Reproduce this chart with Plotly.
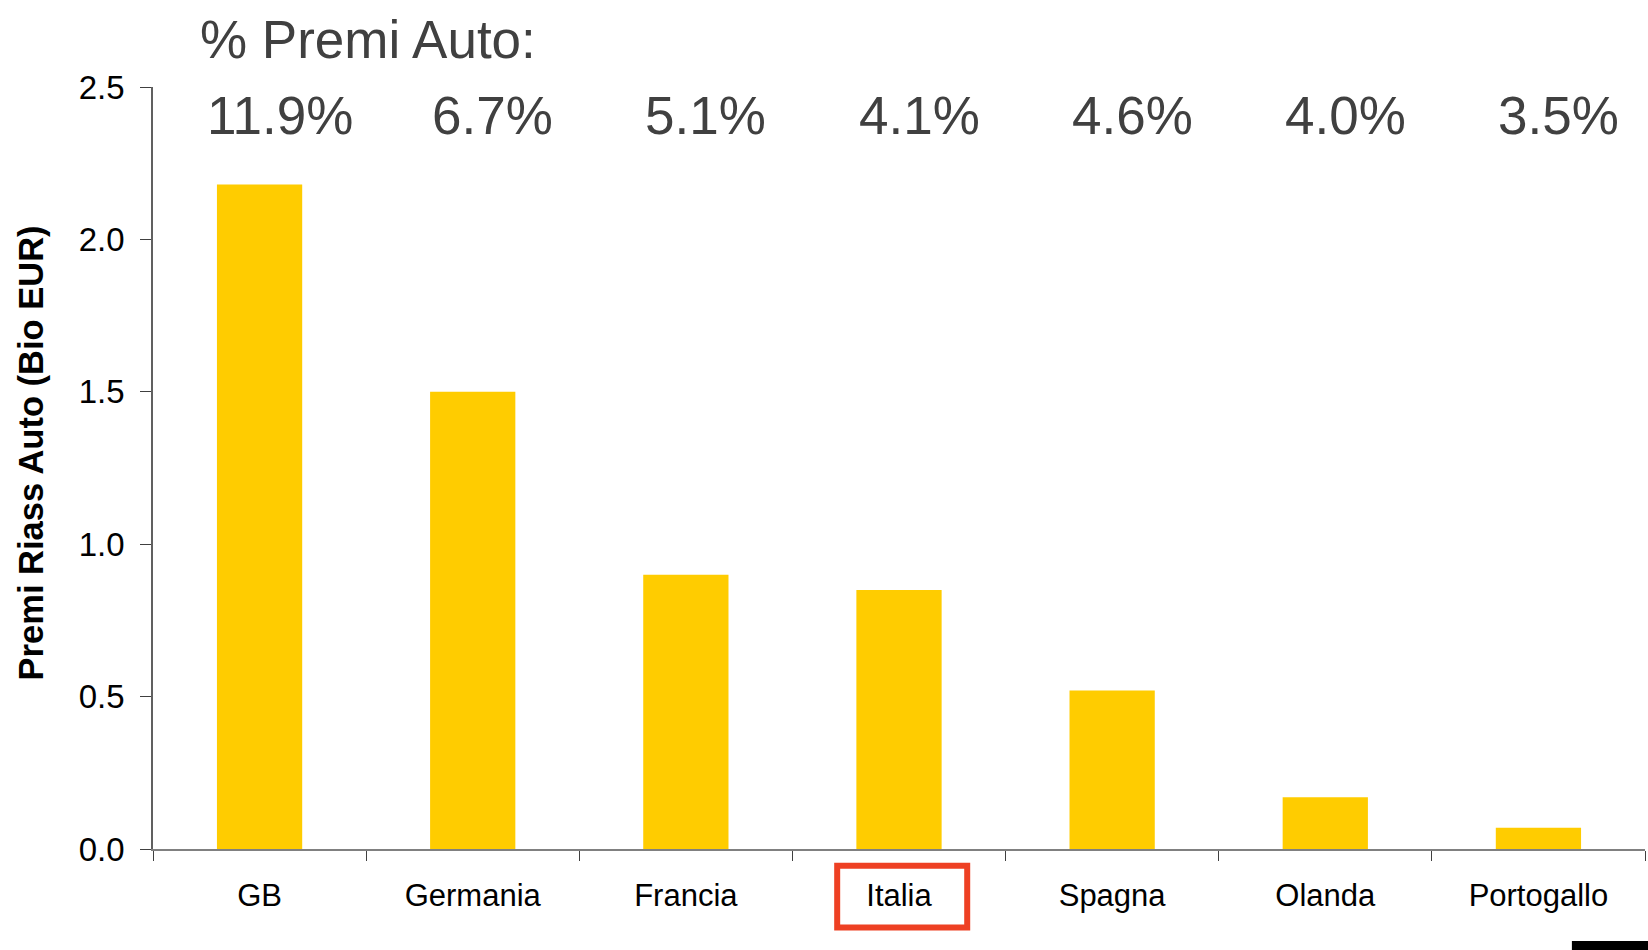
import plotly.graph_objects as go

countries = ["GB", "Germania", "Francia", "Italia", "Spagna", "Olanda", "Portogallo"]
premi_riass = [2.18, 1.50, 0.90, 0.85, 0.52, 0.17, 0.07]
pct_labels = ["11.9%", "6.7%", "5.1%", "4.1%", "4.6%", "4.0%", "3.5%"]
y_ticks = [0.0, 0.5, 1.0, 1.5, 2.0, 2.5]
y_ticktext = ["0.0", "0.5", "1.0", "1.5", "2.0", "2.5"]
highlight = "Italia"

FONT = "Liberation Sans, Arial, sans-serif"

fig = go.Figure()
fig.add_trace(go.Bar(
    x=countries, y=premi_riass,
    marker=dict(color="#FFCC00", line=dict(width=0)),
    width=0.4,
))

for c, t in zip(countries, pct_labels):
    fig.add_annotation(x=c, y=0.963, xref="x", yref="paper", text=t,
                       showarrow=False, xshift=20, yanchor="middle",
                       font=dict(family=FONT, size=53, color="#404040"))

fig.add_annotation(x=0.030, y=1.062, xref="paper", yref="paper",
                   text="% Premi Auto:", showarrow=False,
                   xanchor="left", yanchor="middle",
                   font=dict(family=FONT, size=53, color="#404040"))

fig.add_annotation(x=-0.082, y=0.52, xref="paper", yref="paper",
                   text="<b>Premi Riass Auto (Bio EUR)</b>", textangle=-90,
                   showarrow=False, xanchor="center", yanchor="middle",
                   font=dict(family=FONT, size=34.5, color="#000000"))

idx = countries.index(highlight)
fig.add_shape(type="rect", xref="x", yref="paper",
              x0=idx - 0.29, x1=idx + 0.32, y0=-0.103, y1=-0.022,
              line=dict(color="#EE4023", width=6), fillcolor="rgba(0,0,0,0)")

fig.add_shape(type="rect", xref="paper", yref="paper",
              x0=0.951, x1=1.01, y0=-0.135, y1=-0.1207,
              line=dict(width=0), fillcolor="#000000")

fig.update_layout(
    width=1648, height=950,
    margin=dict(l=153, r=3, t=87, b=101),
    paper_bgcolor="white", plot_bgcolor="white",
    showlegend=False,
    bargap=0.6,
    font=dict(family=FONT, color="#000000"),
)
fig.update_xaxes(
    type="category", showline=True, linecolor="#808080", linewidth=1.5,
    ticks="outside", tickson="boundaries", ticklen=10, tickcolor="#404040",
    tickwidth=1, tickfont=dict(family=FONT, size=31, color="#000000"),
    ticklabelstandoff=18, showgrid=False, zeroline=False,
)
fig.update_yaxes(
    range=[0, 2.5], tickvals=y_ticks, ticktext=y_ticktext,
    showline=True, linecolor="#606060", linewidth=1.5,
    ticks="outside", ticklen=11, tickcolor="#404040", tickwidth=1,
    tickfont=dict(family=FONT, size=33, color="#000000"),
    ticklabelstandoff=9, showgrid=False, zeroline=False,
)

fig.write_html(
    "out.html",
    config={"displayModeBar": False},
    post_script="document.body.style.margin='0';document.body.style.overflow='hidden';",
)
